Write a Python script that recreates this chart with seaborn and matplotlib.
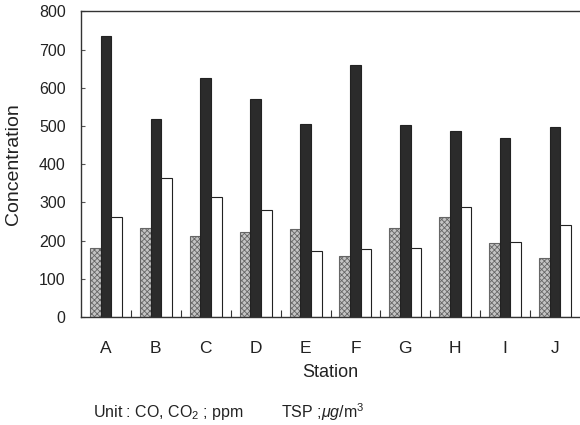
import matplotlib
matplotlib.use("Agg")
import matplotlib.pyplot as plt
import seaborn as sns
import pandas as pd
from matplotlib.ticker import FixedLocator

stations = ["A", "B", "C", "D", "E", "F", "G", "H", "I", "J"]
series_names = ["CO", "CO2", "TSP"]
co_values = [181, 234, 213, 223, 230, 160, 232, 263, 193, 154]
co2_values = [736, 518, 625, 570, 505, 659, 502, 487, 470, 498]
tsp_values = [261, 363, 314, 279, 173, 177, 180, 288, 196, 241]
y_ticks = [0, 100, 200, 300, 400, 500, 600, 700, 800]

df = pd.DataFrame({
    "Station": stations * 3,
    "Series": sum([[s] * len(stations) for s in series_names], []),
    "Concentration": co_values + co2_values + tsp_values,
})

sns.set_style("white")
plt.rcParams["font.family"] = ["Liberation Sans", "DejaVu Sans"]
plt.rcParams["mathtext.fontset"] = "custom"
plt.rcParams["mathtext.rm"] = "Liberation Sans"
plt.rcParams["mathtext.it"] = "Liberation Sans:italic"
plt.rcParams["hatch.linewidth"] = 0.6
plt.rcParams["hatch.color"] = "#555555"

fig = plt.figure(figsize=(5.8, 4.25), dpi=100)
ax = fig.add_axes([81 / 580, 1 - 317 / 425, 499 / 580, (317 - 11.5) / 425])

palette = {"CO": "#c4c4c4", "CO2": "#2b2b2b", "TSP": "#ffffff"}
sns.barplot(data=df, x="Station", y="Concentration", hue="Series",
            order=stations, hue_order=series_names, palette=palette,
            width=0.64, gap=0, edgecolor="#222222", linewidth=0.8,
            legend=False, ax=ax, saturation=1)

# hatch the CO bars
for cont, name in zip(ax.containers, series_names):
    for bar in cont:
        if name == "CO":
            bar.set_hatch("xxxxxx")
            bar.set_edgecolor("#666666")

ax.set_ylim(0, 800)
ax.set_xlim(-0.5, len(stations) - 0.5)
ax.set_yticks(y_ticks)
ax.tick_params(axis="y", direction="in", length=3, width=0.8, color="#555555",
               left=True, pad=11, labelsize=11.5, labelcolor="#222222")
ax.tick_params(axis="x", which="major", length=0, pad=17, labelsize=12.5, labelcolor="#222222")
ax.xaxis.set_minor_locator(FixedLocator([i + 0.5 for i in range(len(stations) - 1)]))
ax.tick_params(axis="x", which="minor", direction="in", length=5, width=0.8, color="#333333", bottom=True)

for side in ["left", "bottom", "top"]:
    ax.spines[side].set_visible(True)
    ax.spines[side].set_color("#333333")
    ax.spines[side].set_linewidth(1.0)
ax.spines["right"].set_visible(False)

ax.set_xlabel("Station", fontsize=13, color="#222222", labelpad=6)
ax.set_ylabel("Concentration", fontsize=14, color="#222222", labelpad=4)
ax.yaxis.set_label_coords(-59 / 499, 0.5)

fig.text(93 / 580, 1 - 412 / 425, "Unit : CO, CO$_2$ ; ppm", fontsize=11.5,
         color="#222222", va="center", ha="left")
fig.text(281 / 580, 1 - 412 / 425, r"TSP ;$\mathit{\mu g}$/m$^3$", fontsize=11.5,
         color="#222222", va="center", ha="left")

fig.savefig("out.png", dpi=100)
